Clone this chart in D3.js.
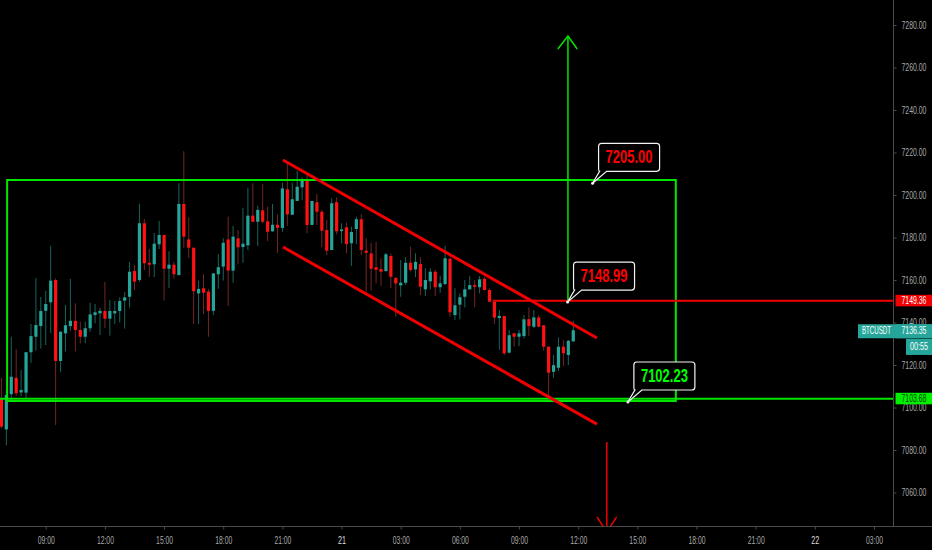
<!DOCTYPE html>
<html lang="en">
  <head>
    <title>BTCUSDT 15m</title>
    <script src="https://d3js.org/d3.v7.min.js"></script>
    <style>
      html, body { margin: 0; padding: 0; background: #000; overflow: hidden; }
      svg { display: block; font-family: "Liberation Sans Narrow", "Liberation Sans", sans-serif; }
      .axis path, .axis line { stroke: #4a4a4a; }
      .axis text { fill: #a8a8a8; font-size: 10px; }
      .callout text { font-weight: bold; font-size: 18px; }
    </style>
  </head>
  <body>
    <svg id="chart" width="932" height="550">
      <defs><clipPath id="pane"><rect x="0" y="0" width="893" height="526"></rect></clipPath></defs>
      <g class="candles" clip-path="url(#pane)"></g>
      <g class="drawings" clip-path="url(#pane)"></g>
      <g class="axes"></g>
      <g class="callouts"></g>
      <g class="tags"></g>
    </svg>
    <script>
      // 15 minute candles, hours counted from midnight of the 20th
      const firstHour = 6.75

      const opens = [
        7103.9,7089.7,7106.3,7114.0,7107.1,7107.0,7126.0,7133.3,7138.3,7145.5,
        7149.5,7160.0,7121.9,7134.9,7138.3,7140.8,7136.5,7133.3,7137.3,7143.5,
        7144.3,7145.4,7141.8,7144.3,7145.4,7150.3,7152.1,7164.2,7160.0,7186.7,
        7168.1,7167.4,7176.8,7181.2,7165.3,7167.2,7162.3,7195.8,7179.1,7175.2,
        7153.7,7156.1,7154.5,7145.5,7162.7,7166.3,7179.1,7164.4,7179.6,7175.5,
        7176.3,7190.3,7187.4,7192.8,7187.6,7182.9,7186.0,7184.5,7202.7,7190.7,
        7197.2,7203.6,7206.8,7185.9,7196.6,7192.1,7183.5,7174.1,7196.6,7183.0,
        7184.8,7177.3,7184.0,7188.6,7173.8,7172.5,7166.0,7165.2,7164.2,7171.3,
        7160.9,7157.5,7158.7,7168.1,7165.0,7167.5,7155.6,7159.4,7163.9,7156.6,
        7158.1,7170.0,7143.5,7148.4,7152.1,7155.6,7157.6,7156.6,7160.6,7155.3,
        7149.8,7142.1,7143.1,7125.8,7134.9,7133.3,7133.6,7141.6,7138.0,7142.4,
        7138.7,7128.6,7116.8,7118.7,7128.6,7124.7,7131.1
      ]
      const highs = [
        7114.0,7108.2,7133.3,7127.4,7117.6,7126.1,7139.3,7160.9,7152.0,7154.9,
        7176.1,7160.8,7135.7,7148.2,7160.5,7149.0,7140.4,7140.4,7149.3,7148.7,
        7147.0,7159.0,7150.6,7150.1,7151.8,7154.3,7168.6,7167.0,7195.8,7188.7,
        7174.6,7182.1,7187.8,7181.2,7173.5,7168.6,7205.5,7220.6,7189.5,7175.2,
        7159.7,7162.7,7155.8,7163.1,7172.2,7179.6,7189.8,7185.5,7183.5,7194.0,
        7203.4,7205.5,7195.0,7205.2,7194.5,7195.8,7190.9,7205.8,7214.9,7205.8,
        7211.4,7208.3,7209.4,7197.2,7200.5,7193.0,7188.2,7198.4,7198.9,7186.7,
        7187.0,7185.1,7189.8,7191.0,7179.6,7177.5,7177.9,7170.2,7172.8,7172.5,
        7161.5,7169.4,7170.7,7175.7,7172.5,7170.7,7165.5,7165.5,7164.7,7162.0,
        7176.1,7170.7,7156.1,7153.7,7160.0,7162.0,7160.0,7161.9,7161.5,7156.1,
        7150.3,7145.9,7143.1,7136.5,7134.9,7136.5,7143.5,7147.1,7145.9,7143.5,
        7138.7,7128.9,7124.7,7133.0,7131.7,7131.7,7140.8
      ]
      const lows = [
        7090.2,7082.3,7103.5,7105.4,7105.4,7104.5,7121.0,7126.7,7127.7,7129.4,
        7135.0,7091.8,7116.8,7126.4,7136.1,7126.4,7130.2,7130.2,7135.7,7139.6,
        7134.1,7137.4,7133.8,7139.3,7140.1,7137.1,7147.0,7155.3,7159.2,7164.7,
        7161.4,7161.4,7174.6,7150.3,7156.2,7160.6,7162.3,7175.2,7170.5,7139.3,
        7139.3,7144.0,7133.3,7143.5,7155.9,7159.7,7147.8,7158.7,7167.5,7168.1,
        7174.1,7187.4,7176.0,7186.7,7178.3,7182.7,7172.8,7182.6,7185.4,7190.7,
        7197.2,7197.6,7182.0,7185.9,7185.9,7175.4,7171.8,7174.1,7181.5,7177.3,
        7172.6,7166.6,7176.9,7171.8,7154.5,7155.0,7158.4,7157.2,7163.9,7156.2,
        7142.7,7152.1,7157.6,7163.9,7161.3,7152.9,7152.5,7155.6,7152.5,7154.0,
        7157.6,7142.7,7141.2,7141.5,7147.1,7155.6,7147.1,7153.7,7155.0,7149.8,
        7139.3,7127.1,7124.7,7125.5,7128.6,7128.9,7132.5,7133.6,7137.3,7137.7,
        7126.7,7105.1,7114.0,7117.2,7119.5,7120.0,7131.1
      ]
      const closes = [
        7091.0,7105.9,7114.5,7106.7,7108.2,7126.0,7133.6,7138.8,7145.4,7148.7,
        7159.7,7121.9,7135.7,7138.7,7140.8,7136.5,7133.3,7137.3,7143.8,7144.8,
        7145.5,7141.8,7145.4,7145.4,7150.1,7151.8,7163.9,7159.2,7186.7,7167.9,
        7167.2,7177.1,7181.2,7165.3,7167.2,7162.7,7195.8,7180.4,7175.2,7154.7,
        7155.8,7154.0,7145.5,7163.1,7166.0,7177.5,7164.4,7180.4,7175.4,7177.1,
        7190.3,7187.4,7193.0,7187.4,7182.7,7186.0,7184.5,7203.1,7190.9,7198.0,
        7203.9,7206.7,7185.9,7197.2,7192.1,7183.2,7173.8,7196.1,7182.9,7183.8,
        7176.9,7182.6,7188.6,7174.1,7172.8,7165.3,7164.8,7163.9,7172.1,7161.5,
        7158.4,7158.7,7168.1,7164.7,7168.5,7156.8,7160.0,7163.9,7156.6,7158.4,
        7170.2,7144.8,7148.1,7151.9,7155.6,7157.6,7156.8,7160.3,7155.3,7149.8,
        7142.3,7143.1,7125.5,7134.0,7133.3,7134.9,7141.5,7138.3,7142.4,7138.0,
        7128.6,7116.4,7119.9,7128.6,7125.5,7131.4,7136.35
      ]

      const hourTicks = [9, 12, 15, 18, 21, 24, 27, 30, 33, 36, 39, 42, 45, 48, 51]
      const hourLabels = ['09:00', '12:00', '15:00', '18:00', '21:00', '21', '03:00', '06:00', '09:00', '12:00', '15:00', '18:00', '21:00', '22', '03:00']
      const priceTicks = [7060, 7080, 7100, 7120, 7140, 7160, 7180, 7200, 7220, 7240, 7260, 7280]

      // drawings as [hour, price] pairs
      const greenBox = [[7.04, 7207.05], [40.95, 7103.05]]
      const channelTop = [[21.03, 7216.5], [36.95, 7132.7]]
      const channelBottom = [[21.03, 7175.5], [36.95, 7092.2]]
      const redLevel = [[31.67, 7150.2], [52, 7150.2]]
      const greenLevel = [[6, 7104.1], [52, 7104.1]]
      const upArrow = [[35.48, 7150.6], [35.48, 7274.8]]
      const upHead = [[34.97, 7268.7], [35.48, 7274.8], [35.95, 7268.7]]
      const downArrow = [[37.45, 7083.8], [37.45, 7041.4]]
      const downHead = [[36.95, 7048.5], [37.45, 7041.4], [37.95, 7048.5]]

      const calloutHours = [36.73, 35.46, 38.52]
      const calloutPrices = [7205.5, 7149.6, 7102.6]
      const calloutTexts = ['7205.00', '7148.99', '7102.23']
      const calloutColors = ['#ff0000', '#ff0000', '#00ff00']

      const x = d3.scaleLinear().domain([firstHour, 52]).range([1.4, 893.7])
      const y = d3.scaleLinear().domain([7280, 7060]).range([25, 492.5])

      const teal = '#26a69a'
      const red = '#ff1212'
      const lime = '#00e600'
      const lineRed = '#f00000'

      // the reference uses a squeezed face, so fit each text to its width with a horizontal scale
      function squeeze(sel, width, left, top) {
        sel.each(function (d, i) {
          const t = d3.select(this)
          const w = typeof width === 'function' ? width(d, i) : width
          const lx = typeof left === 'function' ? left(d, i) : left
          const ty = typeof top === 'function' ? top(d, i) : top
          t.attr('x', 0).attr('y', 0)
            .attr('transform', `translate(${lx},${ty}) scale(${w / this.getComputedTextLength()},1)`)
        })
      }

      const candles = d3.select('.candles')
        .selectAll('g')
        .data(opens.map((o, i) => ({ hour: firstHour + i * 0.25, o, h: highs[i], l: lows[i], c: closes[i] })))
        .join('g')

      candles.append('line')
        .attr('x1', d => x(d.hour))
        .attr('x2', d => x(d.hour))
        .attr('y1', d => y(d.h))
        .attr('y2', d => y(d.l))
        .attr('stroke', d => d.c >= d.o ? '#17655e' : '#742626')
        .attr('stroke-width', 1)

      candles.append('rect')
        .attr('x', d => x(d.hour) - 1.6)
        .attr('width', 3.2)
        .attr('y', d => y(Math.max(d.o, d.c)))
        .attr('height', d => Math.max(1.5, Math.abs(y(d.o) - y(d.c))))
        .attr('fill', d => d.c >= d.o ? teal : red)

      const line = d3.line().x(d => x(d[0])).y(d => y(d[1]))
      const drawings = d3.select('.drawings')

      drawings.append('rect')
        .attr('x', x(greenBox[0][0]))
        .attr('y', y(greenBox[0][1]))
        .attr('width', x(greenBox[1][0]) - x(greenBox[0][0]))
        .attr('height', y(greenBox[1][1]) - y(greenBox[0][1]))
        .attr('fill', 'none')
        .attr('stroke', lime)
        .attr('stroke-width', 2)

      const paths = [
        { pts: greenLevel, color: lime, w: 2 },
        { pts: redLevel, color: lineRed, w: 2 },
        { pts: channelTop, color: lineRed, w: 3 },
        { pts: channelBottom, color: lineRed, w: 3 },
        { pts: upArrow, color: lime, w: 1.5 },
        { pts: upHead, color: lime, w: 1.5 },
        { pts: downArrow, color: lineRed, w: 1.5 },
        { pts: downHead, color: lineRed, w: 1.5 }
      ]
      drawings.selectAll('path')
        .data(paths)
        .join('path')
        .attr('d', d => line(d.pts))
        .attr('fill', 'none')
        .attr('stroke', d => d.color)
        .attr('stroke-width', d => d.w)

      // axes
      const axes = d3.select('.axes')
      const xAxis = axes.append('g')
        .attr('class', 'axis')
        .attr('transform', 'translate(0,526.5)')
        .call(d3.axisBottom(x).tickValues(hourTicks).tickFormat((d, i) => hourLabels[i]).tickSize(3).tickSizeOuter(0))
      xAxis.select('.domain').attr('d', 'M0,0H932')
      xAxis.selectAll('text')
        .style('fill', (d, i) => hourLabels[i].length > 2 ? '#a8a8a8' : '#dddddd')
        .call(squeeze, (d, i) => hourLabels[i].length > 2 ? 17 : 8, 0, 10)

      const yAxis = axes.append('g')
        .attr('class', 'axis')
        .attr('transform', 'translate(893.5,0)')
        .call(d3.axisRight(y).tickValues(priceTicks).tickFormat(d3.format('.2f')).tickSize(3).tickSizeOuter(0))
      yAxis.select('.domain').attr('d', 'M0,0V526')
      yAxis.selectAll('text').call(squeeze, 25, 8, 0)

      // callouts
      const callouts = d3.select('.callouts')
        .selectAll('g')
        .data(calloutTexts.map((t, i) => ({ t, hour: calloutHours[i], price: calloutPrices[i], color: calloutColors[i] })))
        .join('g')
        .attr('class', 'callout')
        .attr('transform', d => `translate(${x(d.hour)},${y(d.price)})`)

      const boxW = 61
      callouts.append('path')
        .attr('d', `M0,0L14,-12H${6 + boxW - 3}q3,0 3,-3V-37q0,-3 -3,-3H9q-3,0 -3,3V-15q0,3 1,3Z`)
        .attr('fill', '#000')
        .attr('stroke', '#f4f4f4')
        .attr('stroke-width', 1.2)

      callouts.append('circle')
        .attr('r', 1.5)
        .attr('fill', '#f4f4f4')

      callouts.append('text')
        .attr('text-anchor', 'middle')
        .attr('fill', d => d.color)
        .text(d => d.t)
        .call(squeeze, 47, 6 + boxW / 2, -20)

      // price tags over the axis
      const tagTexts = ['7149.36', 'BTCUSDT', '7136.35', '00:55', '7103.68']
      const tagPrices = [7150.2, 7136.35, 7136.35, 7128.5, 7104.1]
      const tagLeft = [895.5, 858, 895.5, 906, 895.5]
      const tagFill = [lineRed, teal, teal, teal, '#00f000']
      const tagInk = ['#ffffff', '#ffffff', '#ffffff', '#ffffff', '#0a3a0a']
      const tagLen = [25, 29, 25, 18, 25]
      const tagTextX = [901.5, 862, 901.5, 910, 901.5]

      const tags = d3.select('.tags')
        .selectAll('g')
        .data(tagTexts)
        .join('g')
        .attr('transform', (d, i) => `translate(0,${y(tagPrices[i])})`)

      tags.append('rect')
        .attr('x', (d, i) => tagLeft[i])
        .attr('y', (d, i) => i === 3 ? -8 : -6)
        .attr('width', (d, i) => 932 - tagLeft[i])
        .attr('height', (d, i) => i === 3 ? 16 : i === 1 || i === 2 ? 14 : 11.5)
        .attr('fill', (d, i) => tagFill[i])

      tags.append('text')
        .attr('font-size', 10)
        .attr('fill', (d, i) => tagInk[i])
        .text(d => d)
        .call(squeeze, (d, i) => tagLen[i], (d, i) => tagTextX[i], (d, i) => i === 1 || i === 2 ? 4 : 3.5)
    </script>
  </body>
</html>
